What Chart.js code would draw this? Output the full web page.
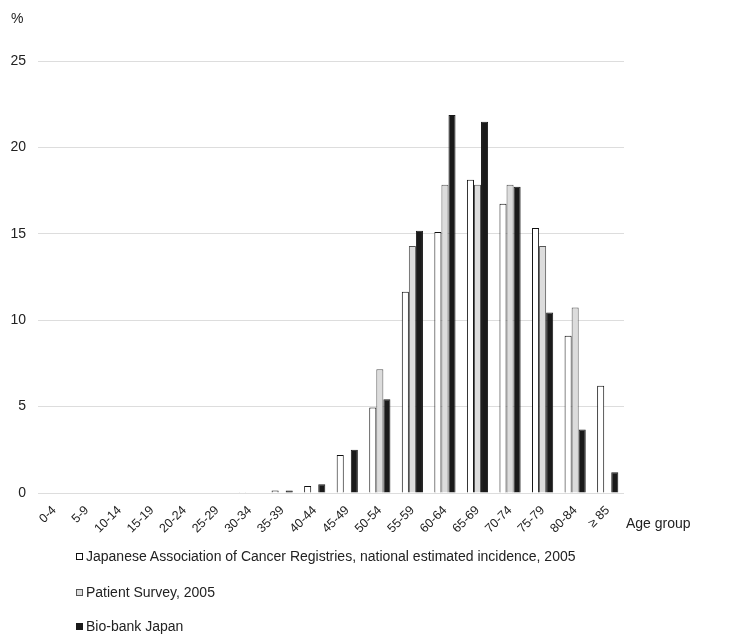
<!DOCTYPE html>
<html>
<head>
<meta charset="utf-8">
<script src="https://cdn.jsdelivr.net/npm/chart.js@4"></script>
<style>
  html, body { margin: 0; padding: 0; background: #fff; }
  #wrap { position: relative; width: 735px; height: 636px; font-family: "Liberation Sans", Arial, sans-serif; color: #222; }
  #c { position: absolute; left: 0; top: 0; }
  .lbl { position: absolute; font-size: 14px; white-space: nowrap; line-height: 1; }
  .leg { position: absolute; left: 76px; font-size: 14px; white-space: nowrap; line-height: 1; display: flex; align-items: center; }
  .leg span.box { display: inline-block; width: 7px; height: 7px; margin-right: 3px; box-sizing: border-box; }
</style>
</head>
<body>
<div id="wrap">
  <canvas id="c" width="735" height="636"></canvas>
  <div class="lbl" style="left:11px; top:11px;">%</div>
  <div class="lbl" style="left:626px; top:516px;">Age group</div>
  <div id="legend"></div>
</div>
<script>
const categories = ["0-4","5-9","10-14","15-19","20-24","25-29","30-34","35-39","40-44","45-49","50-54","55-59","60-64","65-69","70-74","75-79","80-84","\u2265 85"];
const seriesNames = [
  "Japanese Association of Cancer Registries, national estimated incidence, 2005",
  "Patient Survey, 2005",
  "Bio-bank Japan"
];
const jacrValues    = [0, 0.03, 0, 0, 0, 0, 0.05, 0.15, 0.4, 2.2, 4.95, 11.65, 15.1, 18.13, 16.74, 15.34, 9.1, 6.21];
const surveyValues  = [0, 0, 0, 0, 0, 0, 0, 0, 0, 0, 7.16, 14.29, 17.84, 17.84, 17.84, 14.29, 10.73, 0];
const biobankValues = [0, 0, 0, 0, 0, 0, 0, 0.15, 0.5, 2.5, 5.42, 15.18, 21.88, 21.49, 17.73, 10.44, 3.67, 1.2];
const yTicks = [0, 5, 10, 15, 20, 25];

const styles = [
  { bg: "#ffffff", border: "#111111" },
  { bg: "#dcdcdc", border: "#555555" },
  { bg: "#1a1a1a", border: "#1a1a1a" }
];
const values = [jacrValues, surveyValues, biobankValues];

const datasets = seriesNames.map((name, i) => ({
  label: name,
  data: values[i],
  backgroundColor: styles[i].bg,
  borderColor: styles[i].border,
  borderWidth: 1,
  borderSkipped: "bottom",
  barPercentage: 1.0,
  categoryPercentage: 0.65
}));

// HTML legend
const legTops = [549, 585, 619];
const legend = document.getElementById("legend");
seriesNames.forEach((name, i) => {
  const d = document.createElement("div");
  d.className = "leg";
  d.style.top = legTops[i] + "px";
  const b = document.createElement("span");
  b.className = "box";
  b.style.background = styles[i].bg;
  b.style.border = "1px solid " + (i === 0 ? "#111" : styles[i].border);
  d.appendChild(b);
  d.appendChild(document.createTextNode(name));
  legend.appendChild(d);
});

Chart.defaults.font.family = '"Liberation Sans", Arial, sans-serif';
Chart.defaults.color = "#222";

new Chart(document.getElementById("c"), {
  type: "bar",
  data: { labels: categories, datasets: datasets },
  options: {
    responsive: false,
    animation: false,
    layout: { padding: { left: 0, right: 111, top: 61, bottom: 0 } },
    plugins: { legend: { display: false }, tooltip: { enabled: false } },
    scales: {
      x: {
        grid: { display: false },
        border: { display: false },
        ticks: { minRotation: 45, maxRotation: 45, font: { size: 12.5 }, padding: 2, autoSkip: false },
        afterFit: (s) => { s.height = 636 - 493; }
      },
      y: {
        min: 0, max: 25,
        afterBuildTicks: (s) => { s.ticks = yTicks.map(v => ({ value: v })); },
        grid: { color: "#dddddd", lineWidth: 1, drawTicks: false },
        border: { display: false },
        ticks: { font: { size: 14 }, padding: 12 },
        afterFit: (s) => { s.width = 38; }
      }
    }
  }
});
</script>
</body>
</html>
